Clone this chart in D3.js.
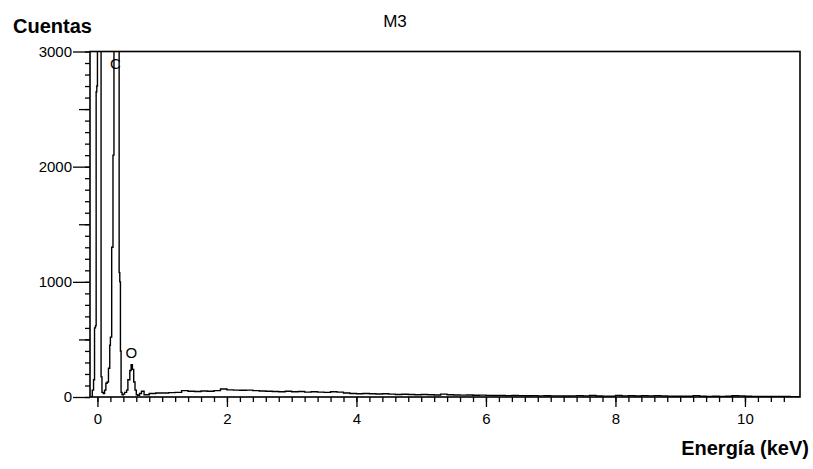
<!DOCTYPE html>
<html>
<head>
<meta charset="utf-8">
<script src="https://cdn.jsdelivr.net/npm/d3@7"></script>
<style>
  body { margin: 0; background: #fff; }
  svg { display: block; }
  text { font-family: "Liberation Sans", Arial, sans-serif; fill: #000; }
</style>
</head>
<body>
<svg id="vis" width="813" height="469"></svg>
<script>
// EDS spectrum M3 -- counts vs energy (keV)
const energy = [
  -0.11, -0.08, -0.06, -0.045, -0.03, -0.02, -0.01, 0.0, 0.04, 0.048, 0.056,
  0.07, 0.09, 0.11, 0.13, 0.15, 0.17, 0.19, 0.2, 0.22, 0.24, 0.255, 0.27, 0.31,
  0.322, 0.335, 0.345, 0.355, 0.365, 0.38, 0.4, 0.42, 0.45, 0.47, 0.5, 0.52,
  0.54, 0.56, 0.58, 0.6, 0.62, 0.65, 0.68, 0.72, 0.75,
  0.8, 0.9, 1.0, 1.1, 1.2, 1.3, 1.4, 1.5, 1.6, 1.7, 1.8, 1.9, 2.0,
  2.1, 2.2, 2.3, 2.4, 2.5, 2.6, 2.7, 2.8, 2.9, 3.0, 3.1, 3.2, 3.3, 3.4, 3.5,
  3.6, 3.7, 3.8, 3.9, 4.0, 4.1, 4.2, 4.3, 4.4, 4.5, 4.6, 4.7, 4.8, 4.9, 5.0,
  5.1, 5.2, 5.3, 5.4, 5.5, 5.6, 5.7, 5.8, 5.9, 6.0, 6.1, 6.2, 6.3, 6.4, 6.5,
  6.6, 6.7, 6.8, 6.9, 7.0, 7.1, 7.2, 7.3, 7.4, 7.5, 7.6, 7.7, 7.8, 7.9, 8.0,
  8.1, 8.2, 8.3, 8.4, 8.5, 8.6, 8.7, 8.8, 8.9, 9.0, 9.1, 9.2, 9.3, 9.4, 9.5,
  9.6, 9.7, 9.8, 9.9, 10.0, 10.1, 10.2, 10.3, 10.4, 10.5, 10.6, 10.7, 10.85
];
const counts = [
  0, 60, 150, 600, 620, 2650, 2700, 9000, 9000, 4000, 175,
  40, 30, 60, 120, 130, 250, 450, 520, 1300, 2100, 3500, 8000, 8000,
  4000, 1080, 1000, 400, 40, 20, 25, 40, 60, 150, 230, 280,
  240, 130, 60, 20, 15, 30, 50, 20, 20,
  30, 35, 35, 38, 40, 55, 50, 48, 52, 50, 55, 70, 62,
  60, 58, 60, 55, 52, 50, 48, 45, 50, 45, 48, 42, 45, 42, 40,
  45, 42, 35, 30, 28, 30, 28, 26, 28, 25, 22, 24, 22, 20, 22,
  20, 18, 25, 20, 18, 16, 17, 15, 16, 14, 13, 14, 12, 13, 12,
  11, 12, 10, 11, 10, 10, 9, 10, 12, 10, 14, 9, 8, 8, 14,
  10, 12, 9, 12, 10, 12, 10, 8, 7, 6, 7, 12, 6, 5, 6,
  5, 6, 11, 10, 6, 5, 5, 4, 5, 4, 4, 3, 3
];
const peakNames = ['C', 'O'];
const peakEnergy = [0.277, 0.525];
const peakTop = [2850, 340];

const xMajor = [0, 2, 4, 6, 8, 10];
const yMajor = [0, 1000, 2000, 3000];

const data = energy.map((e, i) => ({e: e, c: counts[i]}));

const vis = d3.select('#vis');
const plotL = 90, plotR = 800, plotT = 51.5, plotB = 397;

const x = d3.scaleLinear().domain([-0.115, 10.85]).range([plotL, plotR]);
const y = d3.scaleLinear().domain([0, 3000]).range([plotB, plotT]);

vis.append('defs').append('clipPath').attr('id', 'plot')
  .append('rect')
    .attr('x', plotL).attr('y', plotT)
    .attr('width', plotR - plotL).attr('height', plotB - plotT);

// spectrum
const line = d3.line()
  .x(d => x(d.e))
  .y(d => y(d.c))
  .curve(d3.curveStepAfter);

vis.append('path')
  .datum(data)
  .attr('clip-path', 'url(#plot)')
  .attr('fill', 'none')
  .attr('stroke', '#000')
  .attr('stroke-width', 1.4)
  .attr('d', line);

// frame
vis.append('rect')
  .attr('x', plotL).attr('y', plotT)
  .attr('width', plotR - plotL).attr('height', plotB - plotT)
  .attr('fill', 'none')
  .attr('stroke', '#000')
  .attr('stroke-width', 1.6);

function tickStyle(g) {
  g.select('.domain').remove();
  g.selectAll('line').attr('stroke', '#000').attr('stroke-width', 1.3);
}

// y ticks: minor 100, medium 500, major 1000
vis.append('g').attr('transform', `translate(${plotL},0)`)
  .call(d3.axisLeft(y).tickValues(d3.range(0, 3001, 100)).tickSize(5).tickFormat(''))
  .call(tickStyle);
vis.append('g').attr('transform', `translate(${plotL},0)`)
  .call(d3.axisLeft(y).tickValues([500, 1500, 2500]).tickSize(11).tickFormat(''))
  .call(tickStyle);
const yAx = vis.append('g').attr('transform', `translate(${plotL},0)`)
  .call(d3.axisLeft(y).tickValues(yMajor).tickSize(17).tickPadding(1).tickFormat(d3.format('d')))
  .call(tickStyle);
yAx.selectAll('text').style('font-size', '15px').attr('fill', '#000');

// x ticks: minor 0.2 keV, major 2 keV
vis.append('g').attr('transform', `translate(0,${plotB})`)
  .call(d3.axisBottom(x).tickValues(d3.range(0, 54).map(i => i * 0.2)).tickSize(5).tickFormat(''))
  .call(tickStyle);
const xAx = vis.append('g').attr('transform', `translate(0,${plotB})`)
  .call(d3.axisBottom(x).tickValues(xMajor).tickSize(10).tickPadding(6).tickFormat(d3.format('d')))
  .call(tickStyle);
xAx.selectAll('text').style('font-size', '15px').attr('fill', '#000');

// peak labels
vis.selectAll('.peak')
  .data(peakNames)
  .enter().append('text')
    .attr('class', 'peak')
    .attr('x', (d, i) => x(peakEnergy[i]))
    .attr('y', (d, i) => y(peakTop[i]))
    .attr('text-anchor', 'middle')
    .style('font-size', '15px')
    .text(d => d);

// titles
vis.append('text')
  .attr('x', 395).attr('y', 27)
  .attr('text-anchor', 'middle')
  .style('font-size', '17px')
  .text('M3');

vis.append('text')
  .attr('x', 13).attr('y', 33)
  .style('font-size', '20px')
  .style('font-weight', 'bold')
  .text('Cuentas');

vis.append('text')
  .attr('x', 809).attr('y', 455)
  .attr('text-anchor', 'end')
  .style('font-size', '20px')
  .style('font-weight', 'bold')
  .text('Energía (keV)');
</script>
</body>
</html>
